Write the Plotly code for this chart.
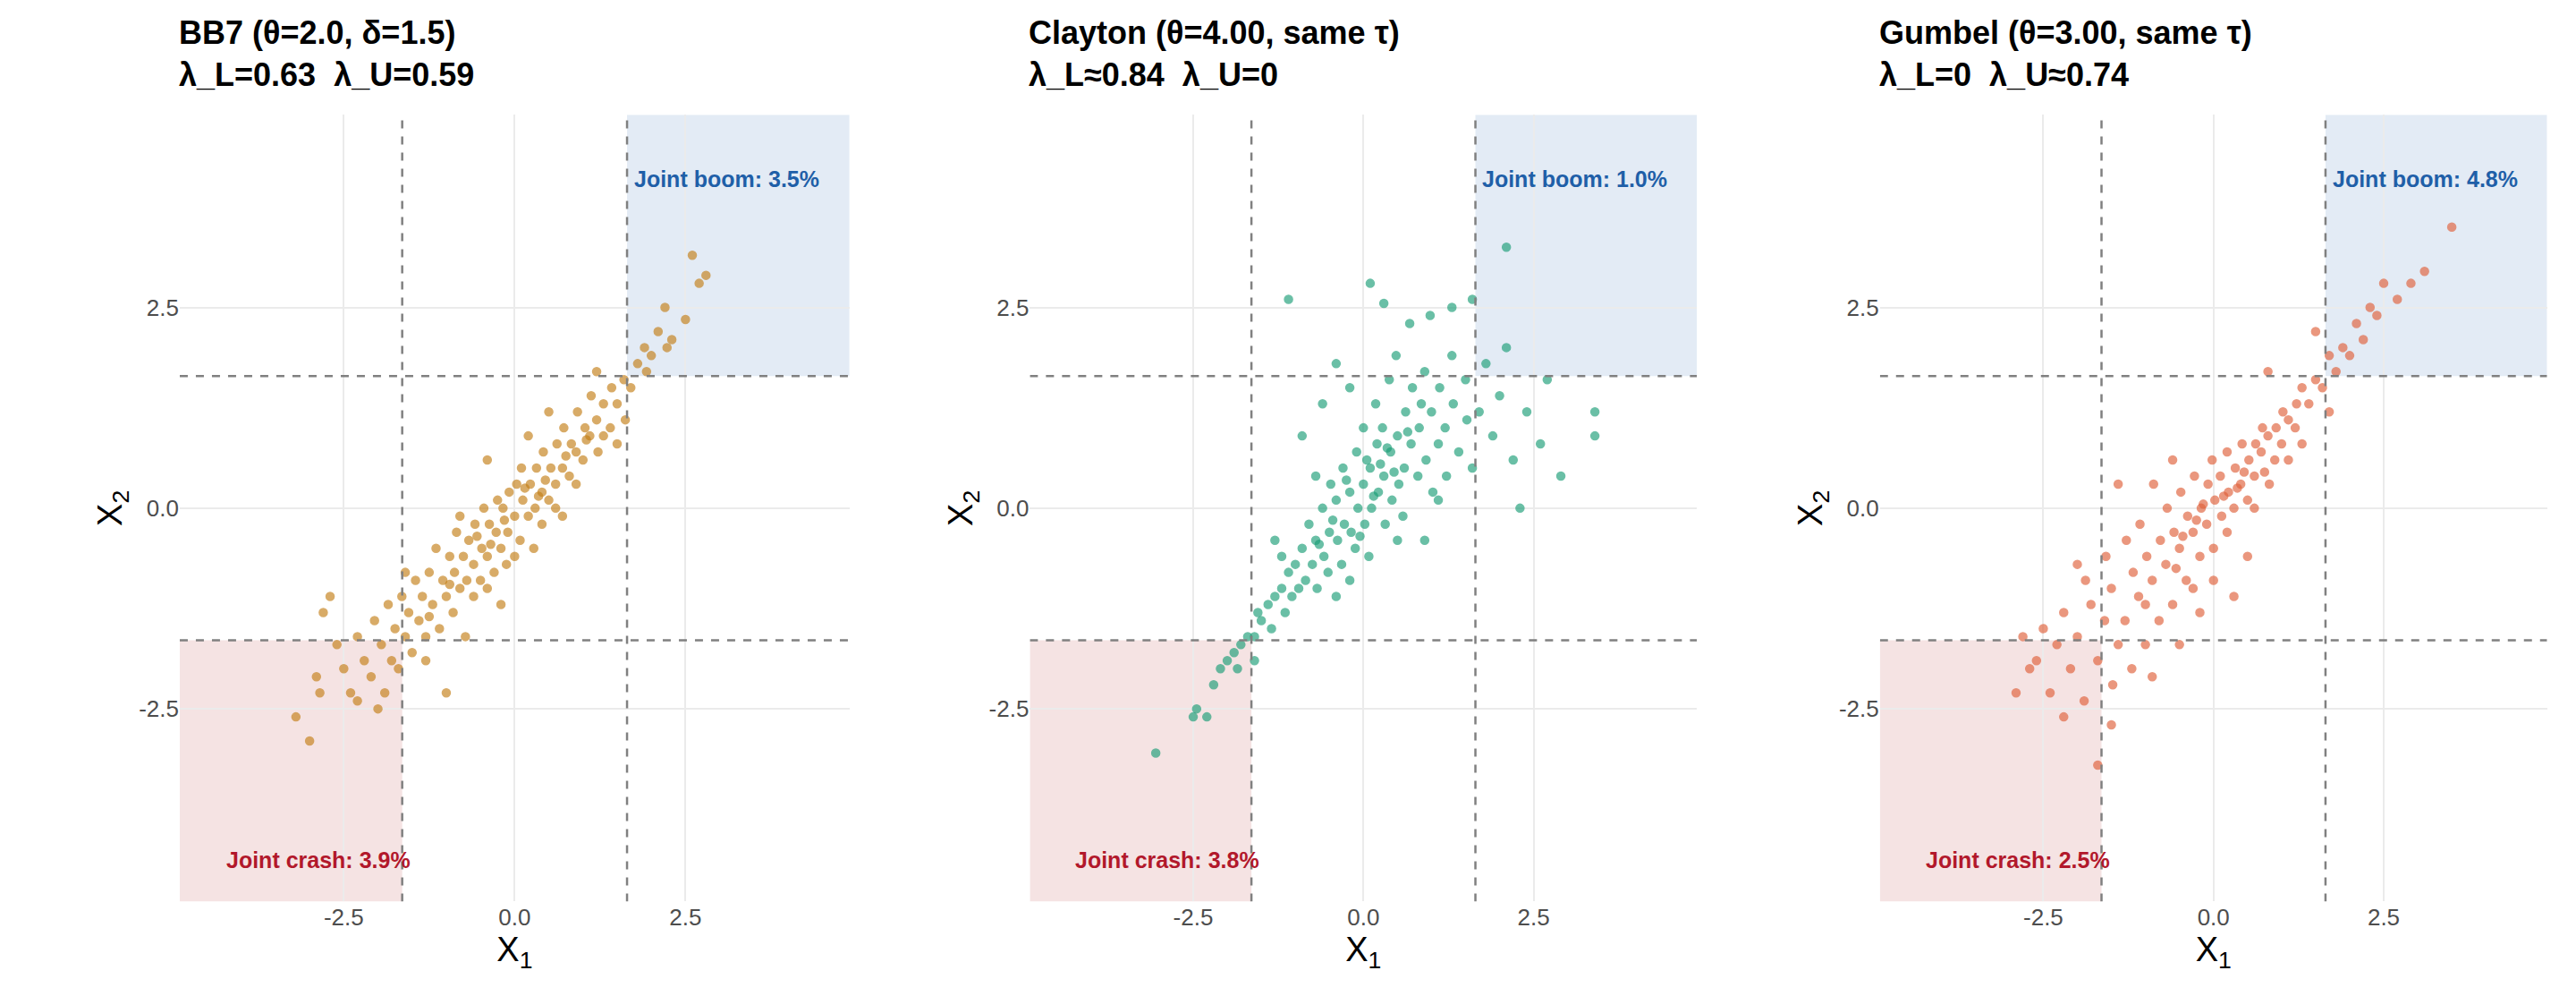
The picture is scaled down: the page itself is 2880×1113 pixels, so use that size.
import plotly.graph_objects as go

titles = ["BB7 (θ=2.0, δ=1.5)<br>λ_L=0.63  λ_U=0.59",
          "Clayton (θ=4.00, same τ)<br>λ_L≈0.84  λ_U=0",
          "Gumbel (θ=3.00, same τ)<br>λ_L=0  λ_U≈0.74"]
colors = ["#C47F17", "#1B9E77", "#E0603A"]
boom_pct = ["3.5%", "1.0%", "4.8%"]
crash_pct = ["3.9%", "3.8%", "2.5%"]
threshold = 1.645

bb7_pts = [(-3.2,-2.6),(-3.0,-2.9),(-2.9,-2.1),(-2.85,-2.3),(-2.8,-1.3),(-2.7,-1.1),(-2.6,-1.7),(-2.5,-2.0),(-2.4,-2.3),(-2.3,-1.6),(-2.2,-1.9),(-2.1,-2.1),(-2.05,-1.4),(-2.0,-2.5),(-1.95,-1.7),(-1.9,-2.3),(-1.85,-1.2),(-1.8,-1.9),(-1.75,-1.5),(-1.7,-2.0),(-1.65,-1.1),(-1.6,-1.6),(-1.55,-1.3),(-1.5,-1.8),(-1.45,-0.9),(-1.4,-1.4),(-1.35,-1.1),(-1.3,-1.6),(-1.25,-0.8),(-1.2,-1.2),(-1.15,-0.5),(-1.1,-1.5),(-1.05,-0.9),(-1.0,-1.1),(-0.95,-0.6),(-0.9,-1.3),(-0.88,-0.8),(-0.85,-0.3),(-0.8,-1.0),(-0.75,-0.6),(-0.7,-0.9),(-0.67,-0.4),(-0.72,-1.6),(-0.6,-0.7),(-0.58,-0.2),(-0.5,-0.9),(-0.48,-0.5),(-0.45,0.0),(-0.4,-0.6),(-0.37,-0.2),(-0.3,-0.8),(-0.27,-0.3),(-0.25,0.1),(-0.2,-0.5),(-0.17,0.0),(-0.1,-0.3),(-0.08,0.2),(-0.12,-0.7),(0.0,-0.1),(0.03,0.3),(0.08,-0.4),(0.12,0.1),(0.1,0.5),(0.2,-0.1),(0.23,0.3),(0.3,0.0),(0.32,0.5),(0.28,-0.5),(0.4,0.2),(0.42,0.7),(0.5,0.1),(0.53,0.5),(0.6,0.3),(0.62,0.8),(0.7,0.5),(0.72,1.0),(0.8,0.4),(0.83,0.8),(0.9,0.7),(0.92,1.2),(1.0,0.6),(1.03,1.0),(1.1,0.9),(1.12,1.4),(1.2,1.1),(1.22,0.7),(1.3,1.3),(1.4,1.0),(1.42,1.5),(1.5,1.3),(1.6,1.6),(1.62,1.1),(1.7,1.5),(1.8,1.8),(1.9,2.0),(1.93,1.7),(2.0,1.9),(2.1,2.2),(2.2,2.5),(2.23,2.0),(2.3,2.1),(2.5,2.35),(2.6,3.15),(2.7,2.8),(2.8,2.9),(1.2,1.7),(0.5,1.2),(-0.4,0.6),(-1.6,-0.8),(-0.2,-1.2),(0.7,-0.1),(1.5,0.8),(-2.3,-2.4),(-1.0,-2.3),(-0.6,-1.1),(0.0,-0.6),(0.6,0.0),(0.9,0.3),(-1.3,-1.9),(-0.8,-0.1),(0.2,0.9),(1.3,0.9),(-0.4,-1.0),(0.4,-0.2),(-0.15,-0.15),(0.15,0.25),(0.45,0.35),(-0.55,-0.35),(0.75,0.65),(-0.95,-0.95),(1.05,0.85),(-1.25,-1.35),(0.35,0.15),(-0.35,-0.45)]

clayton_pts = [(-3.05,-3.05),(-2.5,-2.6),(-2.45,-2.5),(-2.3,-2.6),(-2.2,-2.2),(-2.1,-2.0),(-2.0,-1.9),(-1.9,-1.8),(-1.85,-2.0),(-1.8,-1.7),(-1.7,-1.6),(-1.6,-1.6),(-1.55,-1.3),(-1.5,-1.4),(-1.4,-1.2),(-1.35,-1.5),(-1.3,-1.1),(-1.2,-1.0),(-1.15,-1.3),(-1.1,-0.8),(-1.05,-1.1),(-1.0,-0.7),(-0.95,-1.0),(-0.9,-0.5),(-0.85,-0.9),(-0.8,-0.2),(-0.75,-0.7),(-0.7,-0.4),(-0.68,-1.0),(-0.6,0.0),(-0.58,-0.6),(-0.5,-0.3),(-0.48,0.3),(-0.52,-0.8),(-0.4,0.1),(-0.38,-0.4),(-0.3,0.5),(-0.28,-0.2),(-0.32,-0.7),(-0.2,0.2),(-0.18,-0.3),(-0.1,0.7),(-0.08,0.0),(-0.12,-0.5),(0.0,0.3),(0.02,-0.2),(0.0,1.0),(0.1,0.5),(0.12,0.0),(0.08,-0.6),(0.2,0.8),(0.22,0.2),(0.18,1.3),(0.3,0.4),(0.32,-0.2),(0.28,1.0),(0.4,0.7),(0.42,0.1),(0.38,1.6),(0.5,0.9),(0.52,0.3),(0.48,1.9),(0.6,0.5),(0.62,1.2),(0.58,-0.1),(0.7,0.8),(0.72,1.5),(0.68,2.3),(0.8,0.4),(0.82,1.0),(0.9,1.7),(0.92,0.6),(1.0,1.2),(1.02,0.2),(0.98,2.4),(1.1,0.8),(1.12,1.5),(1.2,1.0),(1.22,0.4),(1.3,1.9),(1.32,1.3),(1.4,0.7),(1.5,1.6),(1.52,1.1),(1.6,0.5),(1.7,1.2),(1.8,1.8),(1.9,0.9),(2.0,1.4),(2.1,2.0),(2.2,0.6),(2.4,1.2),(2.6,0.8),(2.7,1.6),(2.9,0.4),(3.4,1.2),(3.4,0.9),(2.1,3.25),(1.3,2.5),(0.1,2.8),(0.3,2.55),(-1.1,2.6),(-0.4,1.8),(-0.9,0.9),(-1.3,-0.4),(0.9,-0.4),(-0.6,1.3),(1.6,2.6),(-1.6,-1.9),(-0.2,1.5),(2.3,0.0),(-0.7,0.4),(0.05,0.6),(0.35,0.75),(-0.2,-0.9),(0.85,1.3),(-1.2,-0.6),(-0.4,-1.1),(0.5,-0.4),(1.1,0.1),(-0.25,0.35),(0.15,0.15),(-0.45,-0.15),(0.45,0.45),(-0.05,-0.35),(0.65,0.95),(-0.65,-0.45),(0.25,0.55)]

gumbel_pts = [(3.5,3.5),(3.1,2.95),(2.9,2.8),(2.7,2.6),(2.5,2.8),(2.4,2.4),(2.3,2.5),(2.2,2.1),(2.1,2.3),(2.0,1.9),(1.9,2.0),(1.8,1.7),(1.7,1.9),(1.6,1.5),(1.5,1.6),(1.4,1.3),(1.3,1.5),(1.2,1.0),(1.22,1.3),(1.1,1.1),(1.0,0.8),(1.02,1.2),(0.9,0.6),(0.92,1.0),(0.8,0.9),(0.82,0.3),(0.7,0.7),(0.72,1.0),(0.6,0.4),(0.62,0.8),(0.5,0.1),(0.52,0.6),(0.4,0.3),(0.42,0.8),(0.3,0.0),(0.32,0.5),(0.2,-0.3),(0.22,0.2),(0.1,0.4),(0.12,-0.1),(0.0,-0.5),(0.02,0.1),(-0.02,0.6),(-0.1,-0.2),(-0.08,0.3),(-0.2,-0.6),(-0.18,0.0),(-0.3,-0.3),(-0.28,0.4),(-0.4,-0.9),(-0.38,-0.1),(-0.5,-0.5),(-0.48,0.2),(-0.6,-1.2),(-0.58,-0.3),(-0.7,-0.7),(-0.68,0.0),(-0.8,-1.4),(-0.78,-0.4),(-0.9,-0.9),(-0.88,0.3),(-1.0,-1.7),(-0.98,-0.6),(-1.1,-1.1),(-1.08,-0.2),(-1.2,-2.0),(-1.18,-0.8),(-1.3,-1.4),(-1.28,-0.4),(-1.4,-1.7),(-1.5,-1.0),(-1.48,-2.2),(-1.6,-1.4),(-1.58,-0.6),(-1.7,-1.9),(-1.8,-1.2),(-1.9,-2.4),(-1.88,-0.9),(-2.0,-1.6),(-2.1,-2.0),(-2.2,-1.3),(-2.3,-1.7),(-2.4,-2.3),(-2.5,-1.5),(-2.6,-1.9),(-2.7,-2.0),(-2.9,-2.3),(-2.8,-1.6),(-1.7,-3.2),(-1.5,-2.7),(-2.2,-2.6),(-0.5,-1.7),(-0.2,-1.3),(0.5,-0.6),(0.8,1.7),(-1.4,0.3),(1.5,2.2),(0.3,-1.1),(-2.0,-0.7),(-0.9,-2.1),(1.7,1.2),(0.2,0.7),(-0.3,-1.0),(1.1,0.6),(-0.6,0.6),(0.6,0.0),(-1.0,-1.2),(1.3,0.8),(0.0,-0.9),(0.15,0.15),(-0.25,-0.15),(0.45,0.45),(-0.55,-0.75),(0.75,0.45),(-0.15,0.05),(0.35,0.25),(-0.45,-0.35)]

datasets = [bb7_pts, clayton_pts, gumbel_pts]
x_domains = [(0.067, 0.327), (0.397, 0.656), (0.727, 0.986)]
y_domain = (0.102, 0.892)
rng = [-4.9, 4.9]
FONT = "Liberation Sans"

fig = go.Figure()
shapes, annotations = [], []
for i, pts in enumerate(datasets):
    s = "" if i == 0 else str(i + 1)
    xa, ya = "x" + s, "y" + s
    fig.add_trace(go.Scatter(
        x=[p[0] for p in pts], y=[p[1] for p in pts], mode="markers",
        xaxis=xa, yaxis=ya, showlegend=False,
        marker=dict(size=9, color=colors[i], opacity=0.65,
                    line=dict(color=colors[i], width=1.5))))
    common = dict(range=rng, tickvals=[-2.5, 0, 2.5], ticktext=["-2.5", "0.0", "2.5"],
                  showgrid=True, gridcolor="#EBEBEB", gridwidth=2, zeroline=False,
                  showline=False, ticks="", tickfont=dict(size=26, color="#4D4D4D", family=FONT))
    fig.update_layout(**{
        "xaxis" + s: dict(domain=x_domains[i], anchor=ya, title=dict(text="X<sub>1</sub>", font=dict(size=38, family=FONT, color="black"), standoff=6), **common),
        "yaxis" + s: dict(domain=y_domain, anchor=xa, title=dict(text="X<sub>2</sub>", font=dict(size=38, family=FONT, color="black"), standoff=6), **common),
    })
    shapes.append(dict(type="rect", xref=xa, yref=ya, x0=threshold, x1=rng[1], y0=threshold, y1=rng[1],
                       fillcolor="rgba(70,120,190,0.15)", line_width=0, layer="below"))
    shapes.append(dict(type="rect", xref=xa, yref=ya, x0=rng[0], x1=-threshold, y0=rng[0], y1=-threshold,
                       fillcolor="rgba(190,70,70,0.15)", line_width=0, layer="below"))
    for v in (threshold, -threshold):
        shapes.append(dict(type="line", xref=xa, yref=ya, x0=v, x1=v, y0=rng[0], y1=rng[1],
                           line=dict(color="#808080", width=2.5, dash="dash")))
        shapes.append(dict(type="line", xref=xa, yref=ya, x0=rng[0], x1=rng[1], y0=v, y1=v,
                           line=dict(color="#808080", width=2.5, dash="dash")))
    annotations.append(dict(xref=xa, yref=ya, x=1.72, y=4.1, xanchor="left", showarrow=False,
                            text="<b>Joint boom: " + boom_pct[i] + "</b>",
                            font=dict(size=25, color="#1F5FA8", family=FONT)))
    annotations.append(dict(xref=xa, yref=ya, x=-1.5, y=-4.38, xanchor="right", showarrow=False,
                            text="<b>Joint crash: " + crash_pct[i] + "</b>",
                            font=dict(size=25, color="#B2182B", family=FONT)))
    annotations.append(dict(xref="paper", yref="paper", x=x_domains[i][0] - 0.001, y=0.995, xanchor="left", yanchor="top",
                            align="left", showarrow=False, text="<b>" + titles[i] + "</b>",
                            font=dict(size=36, color="black", family=FONT)))

fig.update_layout(width=2880, height=1113, margin=dict(l=0, r=0, t=0, b=0),
                  plot_bgcolor="white", paper_bgcolor="white", shapes=shapes, annotations=annotations)
fig.write_html("out.html")
